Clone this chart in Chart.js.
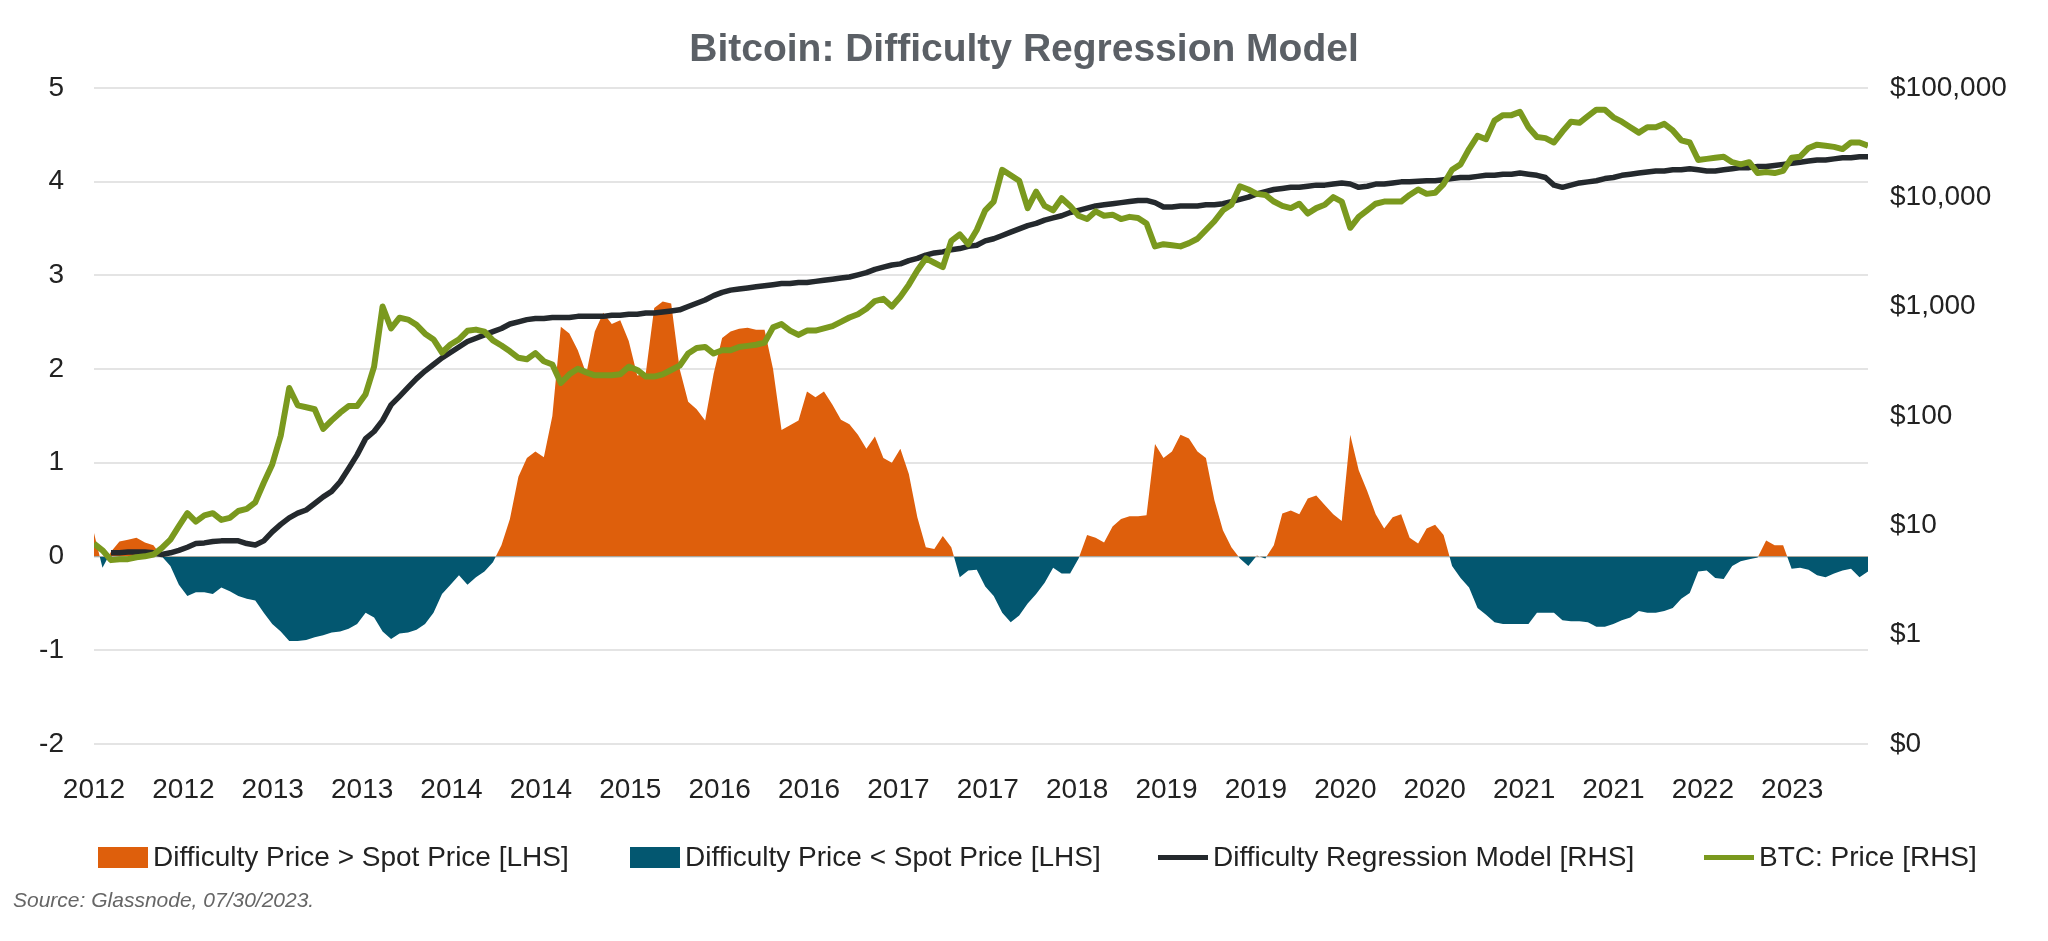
<!DOCTYPE html>
<html>
<head>
<meta charset="utf-8">
<title>Bitcoin: Difficulty Regression Model</title>
<script src="https://cdn.jsdelivr.net/npm/chart.js@4.4.0/dist/chart.umd.min.js"></script>
<style>
  html, body { margin: 0; padding: 0; background: #fff; }
  #wrap { position: relative; width: 2048px; height: 941px; font-family: 'Liberation Sans', Arial, sans-serif; }
  #chart { position: absolute; left: 0; top: 0; }
  .legend-item { position: absolute; top: 840px; height: 34px; display: flex; align-items: center; font-size: 28px; color: #222; white-space: nowrap; }
  .swatch { width: 50px; margin-right: 5px; }
  .swatch.box { height: 21px; }
  .swatch.line { height: 5px; }
  #source { position: absolute; left: 13px; top: 888px; font-size: 21px; font-style: italic; color: #666; }
</style>
</head>
<body>
<div id="wrap">
  <canvas id="chart" width="2048" height="941"></canvas>
  <div id="legend"></div>
  <div id="source">Source: Glassnode, 07/30/2023.</div>
</div>
<script>
// ============================================================
// DATOS (~20 días por punto)
// ============================================================
const xLabels = ['2012','2012','2013','2013','2014','2014','2015','2016','2016','2017',
                 '2017','2018','2019','2019','2020','2020','2021','2021','2022','2023'];
const LABEL_STEP = 10.53;   // puntos entre dos etiquetas del eje X

// Oscilador (LHS): >0 naranja, <0 azul
const oscillator = [
   0.25, -0.12,  0.05,  0.16,  0.18,  0.2,   0.15,  0.12,  0.0,  -0.1,
  -0.3,  -0.42, -0.38, -0.38, -0.4,  -0.33, -0.37, -0.42, -0.45, -0.47,
  -0.6,  -0.72, -0.8,  -0.9,  -0.9,  -0.89, -0.86, -0.84, -0.81, -0.8,
  -0.77, -0.72, -0.6,  -0.65, -0.8,  -0.88, -0.82, -0.81, -0.78, -0.72,
  -0.6,  -0.4,  -0.3,  -0.2,  -0.3,  -0.22, -0.16, -0.06,  0.12,  0.4,
   0.85,  1.05,  1.12,  1.06,  1.5,   2.45,  2.38,  2.2,   1.95,  2.4,
   2.6,   2.48,  2.52,  2.3,   1.93,  1.95,  2.65,  2.72,  2.7,   2.0,
   1.65,  1.57,  1.45,  1.95,  2.33,  2.4,   2.43,  2.44,  2.42,  2.42,
   2.0,   1.35,  1.4,   1.45,  1.76,  1.7,   1.76,  1.62,  1.46,  1.41,
   1.3,   1.15,  1.28,  1.05,  1.0,   1.15,  0.88,  0.42,  0.1,   0.08,
   0.22,  0.1,  -0.22, -0.15, -0.14, -0.32, -0.42, -0.6,  -0.7,  -0.63,
  -0.5,  -0.4,  -0.28, -0.12, -0.18, -0.18, -0.02,  0.23,  0.2,   0.15,
   0.32,  0.4,   0.43,  0.43,  0.44,  1.2,   1.05,  1.12,  1.3,   1.26,
   1.12,  1.05,  0.6,   0.28,  0.1,  -0.02, -0.1,   0.01, -0.02,  0.12,
   0.46,  0.49,  0.45,  0.62,  0.65,  0.55,  0.45,  0.38,  1.3,   0.92,
   0.7,   0.45,  0.3,   0.42,  0.45,  0.2,   0.14,  0.3,   0.34,  0.23,
  -0.1,  -0.23, -0.33, -0.55, -0.62, -0.7,  -0.72, -0.72, -0.72, -0.72,
  -0.6,  -0.6,  -0.6,  -0.68, -0.69, -0.69, -0.7,  -0.75, -0.75, -0.72,
  -0.68, -0.65, -0.58, -0.6,  -0.6,  -0.58, -0.55, -0.45, -0.39, -0.16,
  -0.15, -0.23, -0.24, -0.1,  -0.05, -0.03, -0.01,  0.17,  0.12,  0.12,
  -0.13, -0.12, -0.14, -0.2,  -0.22, -0.18, -0.15, -0.13, -0.22, -0.16
];

// Modelo de regresión de dificultad (RHS, USD)
const modelPrice = [
  null, null, 5.6, 5.6, 5.7, 5.7, 5.7, 5.6, 5.4, 5.6,
  5.9, 6.3, 6.8, 6.9, 7.1, 7.2, 7.2, 7.2, 6.8, 6.6,
  7.2, 8.7, 10.2, 11.7, 12.9, 13.8, 15.8, 18.2, 20.4, 25,
  33, 44, 62, 72, 91, 126, 151, 182, 219, 257,
  295, 339, 380, 427, 479, 513, 550, 589, 630, 692,
  724, 759, 776, 776, 794, 794, 794, 813, 813, 813,
  813, 832, 832, 851, 851, 871, 871, 891, 912, 933,
  1000, 1072, 1148, 1259, 1349, 1413, 1445, 1479, 1514, 1549,
  1585, 1622, 1622, 1660, 1660, 1698, 1738, 1778, 1820, 1862,
  1950, 2042, 2188, 2291, 2399, 2455, 2630, 2754, 2951, 3090,
  3162, 3311, 3388, 3548, 3631, 3981, 4169, 4467, 4786, 5129,
  5495, 5754, 6166, 6457, 6761, 7244, 7586, 7943, 8318, 8511,
  8710, 8913, 9120, 9333, 9333, 8913, 8128, 8128, 8318, 8318,
  8318, 8511, 8511, 8710, 9120, 9550, 10000, 10720, 11220, 11750,
  12020, 12300, 12300, 12590, 12880, 12880, 13180, 13490, 13180, 12300,
  12590, 13180, 13180, 13490, 13800, 13800, 13960, 14130, 14130, 14450,
  14790, 15140, 15140, 15490, 15850, 15850, 16220, 16220, 16600, 16220,
  15850, 15140, 12880, 12300, 12880, 13490, 13800, 14130, 14790, 15140,
  15850, 16220, 16600, 16980, 17380, 17380, 17780, 17780, 18200, 17780,
  17380, 17380, 17780, 18200, 18620, 18620, 19050, 19050, 19500, 19950,
  20420, 20890, 21380, 21880, 21880, 22390, 22910, 22910, 23440, 23440
];

// Precio BTC (RHS, USD)
const btcPrice = [
  6.8, 5.9, 4.8, 4.9, 4.9, 5.1, 5.2, 5.4, 6.2, 7.4,
  9.8, 12.9, 10.8, 12.3, 12.9, 11.2, 11.7, 13.5, 14.1, 16.2,
  24.5, 36, 66, 180, 125, 120, 115, 76, 91, 107,
  123, 123, 158, 282, 1000, 630, 790, 760, 680, 565,
  500, 380, 450, 500, 600, 615, 590, 490, 440, 390,
  340, 330, 375, 316, 295, 200, 240, 270, 250, 235,
  235, 235, 240, 282, 263, 229, 229, 240, 263, 288,
  372, 417, 427, 372, 398, 398, 427, 437, 447, 468,
  645, 692, 603, 550, 603, 603, 631, 661, 724, 794,
  851, 955, 1122, 1175, 1000, 1230, 1585, 2138, 2754, 2512,
  2291, 3981, 4571, 3715, 5012, 7586, 9120, 17780, 15850, 14125,
  7943, 11220, 8318, 7586, 9772, 8318, 6761, 6310, 7413, 6761,
  6918, 6310, 6607, 6457, 5754, 3548, 3715, 3631, 3548, 3802,
  4169, 5012, 6026, 7586, 8511, 12590, 11750, 10720, 10470, 9120,
  8318, 7943, 8710, 7079, 7943, 8511, 10000, 9120, 5248, 6607,
  7586, 8710, 9120, 9120, 9120, 10470, 11750, 10720, 10960, 13180,
  17780, 19950, 27540, 36310, 33880, 50120, 56230, 56230, 60260, 43650,
  35480, 34670, 31620, 39810, 48980, 47860, 54950, 63100, 63100, 53700,
  48980, 43650, 38900, 43650, 43650, 46770, 40740, 33110, 31620, 21880,
  22390, 22910, 23440, 20890, 19950, 20890, 16600, 16980, 16600, 17380,
  22910, 23440, 28180, 30200, 29510, 28840, 27540, 31620, 31620, 29510
];

const leftTicks = [-2, -1, 0, 1, 2, 3, 4, 5];
const rightTickValues = [0.1, 1, 10, 100, 1000, 10000, 100000];
const rightTickLabels = ['$0', '$1', '$10', '$100', '$1,000', '$10,000', '$100,000'];

const seriesNames = [
  'Difficulty Price > Spot Price [LHS]',
  'Difficulty Price < Spot Price [LHS]',
  'Difficulty Regression Model [RHS]',
  'BTC: Price [RHS]'
];
const seriesColors = ['#de5f0c', '#035770', '#24292d', '#7a991e'];

// ============================================================
// LEYENDA (HTML)
// ============================================================
const legendLeft = [98, 630, 1158, 1704];
const legendEl = document.getElementById('legend');
seriesNames.forEach((name, i) => {
    const item = document.createElement('div');
    item.className = 'legend-item';
    item.style.left = legendLeft[i] + 'px';
    const sw = document.createElement('span');
    sw.className = 'swatch ' + (i < 2 ? 'box' : 'line');
    sw.style.background = seriesColors[i];
    const txt = document.createElement('span');
    txt.textContent = name;
    item.appendChild(sw);
    item.appendChild(txt);
    legendEl.appendChild(item);
});

// ============================================================
// GRÁFICO
// ============================================================
Chart.defaults.font.family = "'Liberation Sans', Arial, sans-serif";
const tickFont = { size: 28 };

new Chart(document.getElementById('chart'), {
    type: 'line',
    data: {
        labels: oscillator.map((_, i) => i),
        datasets: [
            {
                label: seriesNames[3],
                data: btcPrice,
                yAxisID: 'yPrice',
                borderColor: seriesColors[3],
                borderWidth: 6,
                borderJoinStyle: 'round',
                pointRadius: 0,
                fill: false,
                order: 0
            },
            {
                label: seriesNames[2],
                data: modelPrice,
                yAxisID: 'yPrice',
                borderColor: seriesColors[2],
                borderWidth: 5.5,
                borderJoinStyle: 'round',
                pointRadius: 0,
                fill: false,
                order: 1
            },
            {
                label: 'Difficulty Price vs Spot Price [LHS]',
                data: oscillator,
                yAxisID: 'y',
                borderWidth: 0,
                borderColor: 'rgba(0,0,0,0)',
                pointRadius: 0,
                fill: { target: 'origin', above: seriesColors[0], below: seriesColors[1] },
                order: 2
            }
        ]
    },
    options: {
        responsive: false,
        animation: false,
        devicePixelRatio: 1,
        layout: { padding: { left: 0, right: 0, top: 0, bottom: 127 } },
        plugins: {
            legend: { display: false },
            tooltip: { enabled: false },
            title: {
                display: true,
                text: 'Bitcoin: Difficulty Regression Model',
                color: '#5b6066',
                font: { size: 39, weight: 'bold' },
                padding: { top: 27, bottom: 14 }
            }
        },
        scales: {
            x: {
                type: 'linear',
                min: 0,
                max: oscillator.length - 1,
                grid: { display: false, drawTicks: false },
                border: { display: false },
                afterBuildTicks: (axis) => {
                    axis.ticks = xLabels.map((_, k) => ({ value: k * LABEL_STEP }));
                },
                afterFit: (axis) => { axis.height = 70; },
                ticks: {
                    autoSkip: false,
                    maxRotation: 0,
                    padding: 29,
                    color: '#222',
                    font: tickFont,
                    callback: (v, i) => xLabels[i]
                }
            },
            y: {
                position: 'left',
                min: leftTicks[0],
                max: leftTicks[leftTicks.length - 1],
                grid: { color: '#e4e4e4', lineWidth: 2, drawTicks: false },
                border: { display: false },
                afterFit: (axis) => { axis.width = 94; },
                ticks: { stepSize: 1, padding: 30, color: '#222', font: tickFont }
            },
            yPrice: {
                type: 'logarithmic',
                position: 'right',
                min: rightTickValues[0],
                max: rightTickValues[rightTickValues.length - 1],
                grid: { display: false, drawTicks: false },
                border: { display: false },
                afterBuildTicks: (axis) => {
                    axis.ticks = rightTickValues.map(v => ({ value: v }));
                },
                afterFit: (axis) => { axis.width = 180; },
                ticks: {
                    padding: 22,
                    color: '#222',
                    font: tickFont,
                    callback: (v, i) => rightTickLabels[i]
                }
            }
        }
    }
});
</script>
</body>
</html>
